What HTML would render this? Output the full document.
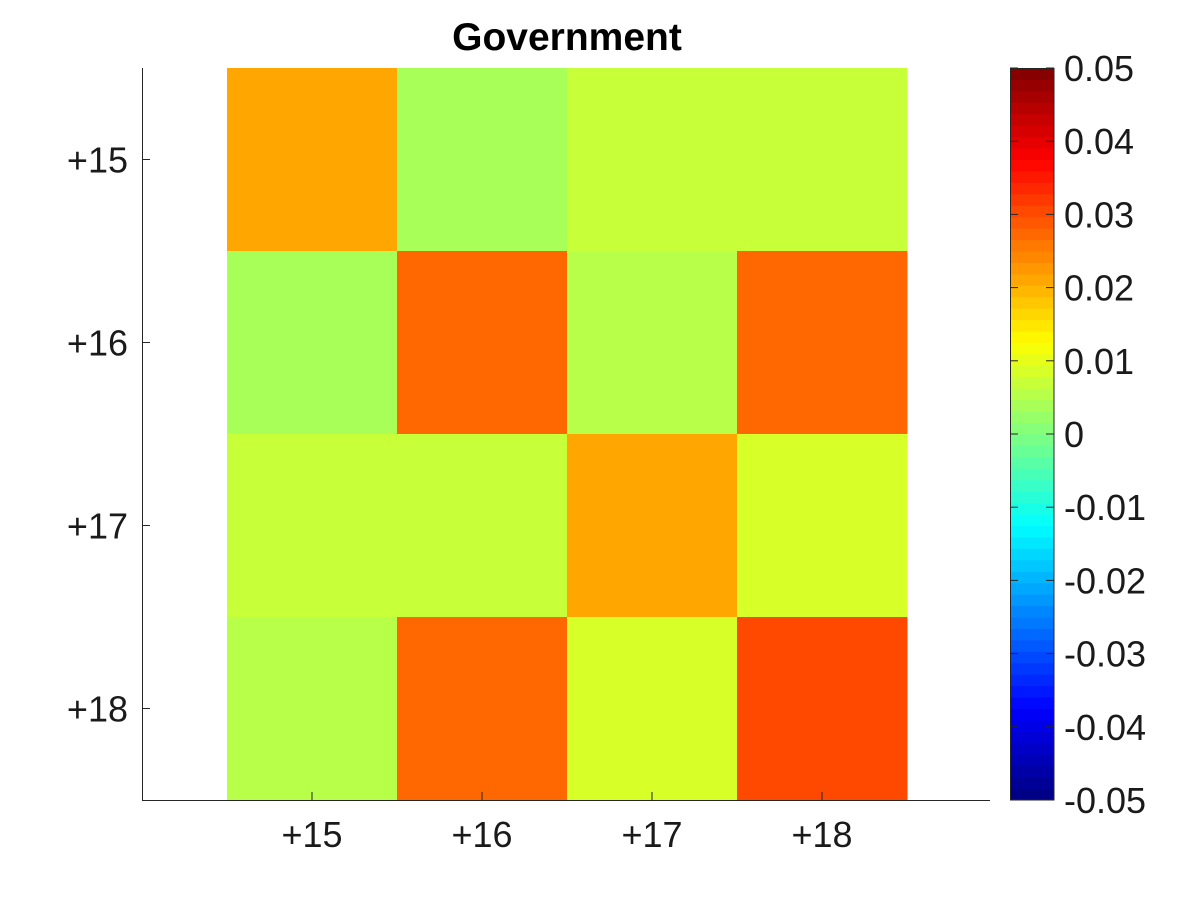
<!DOCTYPE html>
<html><head><meta charset="utf-8"><style>
body{margin:0;background:#fff;}
svg{display:block;font-family:"Liberation Sans",Arial,sans-serif;}
</style></head><body>
<svg id="chart" width="1200" height="900">
<text x="567" y="50" text-anchor="middle" font-size="39" font-weight="bold">Government</text>
<g id="cells"></g>
<g id="axes"></g>
<g id="cbar"></g>
</svg>
<script>
const xCats = ["+15","+16","+17","+18"];
const yCats = ["+15","+16","+17","+18"];
const row1 = [0.021, 0.004, 0.007, 0.007];
const row2 = [0.004, 0.027, 0.006, 0.027];
const row3 = [0.007, 0.007, 0.021, 0.009];
const row4 = [0.006, 0.027, 0.009, 0.030];
const values = [row1,row2,row3,row4];
const cbTicks = [0.05,0.04,0.03,0.02,0.01,0,-0.01,-0.02,-0.03,-0.04,-0.05];
const cbLabels = ["0.05","0.04","0.03","0.02","0.01","0","-0.01","-0.02","-0.03","-0.04","-0.05"];
const vmin=-0.05, vmax=0.05;
const NS="http://www.w3.org/2000/svg";
function mk(tag,attrs,parent){const e=document.createElementNS(NS,tag);for(const k in attrs)e.setAttribute(k,attrs[k]);parent.appendChild(e);return e;}
function cl(v){return Math.max(0,Math.min(1,v));}
function jet(v){
  let t=(v-vmin)/(vmax-vmin); t=Math.min(63,Math.floor(t*64)); t=(t+0.5)/64;
  const r=cl(1.5-Math.abs(4*t-3)),g=cl(1.5-Math.abs(4*t-2)),b=cl(1.5-Math.abs(4*t-1));
  return `rgb(${Math.round(r*255)},${Math.round(g*255)},${Math.round(b*255)})`;
}
const px0=227, cellW=170, py0=68, cellH=183;
const xPos=i=>px0+cellW*i; const yPos=j=>py0+cellH*j;
const cbTop=68, cbBot=800;
const cbY=v=>cbTop+(vmax-v)/(vmax-vmin)*(cbBot-cbTop);
const cells=document.getElementById('cells');
values.forEach((row,j)=>row.forEach((v,i)=>{
  const r=mk('rect',{x:xPos(i),y:yPos(j),width:cellW+0.5,height:cellH+0.5,fill:jet(v)},cells);
  
  
}));
const ax=document.getElementById('axes');
const l1=mk('line',{x1:142.5,y1:68,x2:142.5,y2:800.5,stroke:'#262626','stroke-width':1},ax);


const l2=mk('line',{x1:142,y1:800.5,x2:990,y2:800.5,stroke:'#262626','stroke-width':1},ax);


xCats.forEach((c,i)=>{
  const cx=xPos(i)+cellW/2;
  mk('line',{x1:cx,y1:800,x2:cx,y2:792,stroke:'#262626'},ax);
  const t=mk('text',{x:cx,y:847,'text-anchor':'middle','font-size':36,fill:'#1a1a1a'},ax);
  t.textContent=c;
  
  
});
yCats.forEach((c,j)=>{
  const cy=yPos(j)+cellH/2;
  mk('line',{x1:142,y1:cy,x2:150,y2:cy,stroke:'#262626'},ax);
  const t=mk('text',{x:128,y:cy+13,'text-anchor':'end','font-size':36,fill:'#1a1a1a'},ax);
  t.textContent=c;
  
  
});
const cb=document.getElementById('cbar');
for(let k=0;k<64;k++){
  const v0=vmin+(k)*(vmax-vmin)/64, v1=vmin+(k+1)*(vmax-vmin)/64;
  const r=mk('rect',{x:1010,y:cbY(v1),width:44,height:cbY(v0)-cbY(v1)+0.5,fill:jet((v0+v1)/2)},cb);
  
  
}
const fr=mk('rect',{x:1010.5,y:68.5,width:43.5,height:731.5,fill:'none',stroke:'#262626'},cb);


cbTicks.forEach((v,k)=>{
  const y=cbY(v);
  mk('line',{x1:1046,y1:y,x2:1054,y2:y,stroke:'#262626'},cb);
  mk('line',{x1:1010,y1:y,x2:1018,y2:y,stroke:'#262626'},cb);
  const t=mk('text',{x:1064,y:y+13,'font-size':36,fill:'#1a1a1a'},cb);
  t.textContent=cbLabels[k];
  
  
});
</script>
</body></html>
